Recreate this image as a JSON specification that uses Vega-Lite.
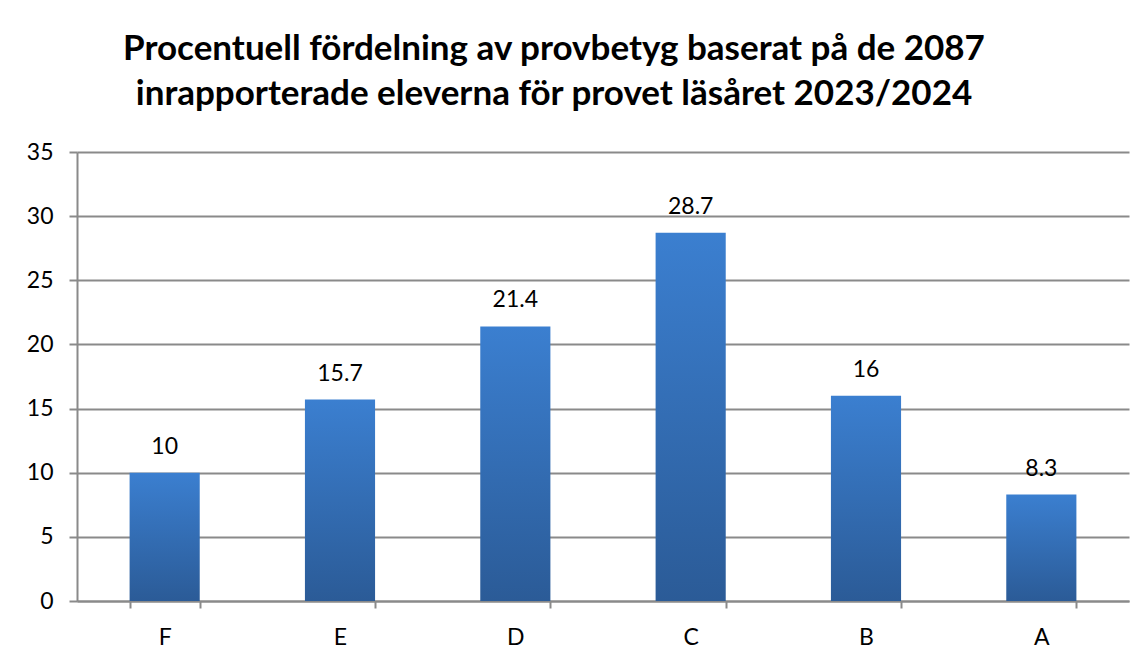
{
  "$schema": "https://vega.github.io/schema/vega-lite/v6.json",
  "autosize": {"type": "none"},
  "width": 1052,
  "height": 449,
  "padding": {"left": 77, "top": 152, "right": 17, "bottom": 63},
  "background": "white",
  "title": {
    "text": ["Procentuell fördelning av provbetyg baserat på de 2087", "inrapporterade eleverna för provet läsåret 2023/2024"],
    "font": "Lato",
    "fontSize": 35,
    "fontWeight": "bold",
    "color": "#000000",
    "lineHeight": 45,
    "anchor": "middle",
    "frame": "group",
    "dx": -49,
    "offset": 29
  },
  "data": {
    "values": [
      {"grade": "F", "percent": 10},
      {"grade": "E", "percent": 15.7},
      {"grade": "D", "percent": 21.4},
      {"grade": "C", "percent": 28.7},
      {"grade": "B", "percent": 16},
      {"grade": "A", "percent": 8.3}
    ]
  },
  "encoding": {
    "x": {
      "field": "grade",
      "type": "nominal",
      "sort": null,
      "scale": {"paddingInner": 0.6, "paddingOuter": 0.3},
      "axis": {
        "title": null,
        "labelAngle": 0,
        "labelFont": "Lato",
        "labelFontSize": 23,
        "labelColor": "#000000",
        "labelPadding": 18,
        "domainColor": "#8a8a8a",
        "domainWidth": 2,
        "tickColor": "#8a8a8a",
        "tickWidth": 2,
        "tickSize": 7,
        "tickBand": "extent",
        "grid": false
      }
    },
    "y": {
      "field": "percent",
      "type": "quantitative",
      "scale": {"domain": [0, 35], "nice": false},
      "axis": {
        "title": null,
        "values": [0, 5, 10, 15, 20, 25, 30, 35],
        "labelFont": "Lato",
        "labelFontSize": 23,
        "labelColor": "#000000",
        "labelPadding": 16,
        "domainColor": "#8a8a8a",
        "domainWidth": 2,
        "tickColor": "#8a8a8a",
        "tickWidth": 2,
        "tickSize": 8,
        "gridColor": "#8a8a8a",
        "gridWidth": 2
      }
    }
  },
  "layer": [
    {
      "mark": {
        "type": "bar",
        "color": {
          "gradient": "linear",
          "x1": 0, "y1": 0, "x2": 0, "y2": 1,
          "stops": [
            {"offset": 0, "color": "#3b7fd0"},
            {"offset": 1, "color": "#2b5b97"}
          ]
        }
      }
    },
    {
      "mark": {
        "type": "text",
        "font": "Lato",
        "fontSize": 23,
        "color": "#000000",
        "baseline": "alphabetic",
        "dy": -19
      },
      "encoding": {
        "text": {"field": "percent", "type": "quantitative"}
      }
    }
  ],
  "config": {"view": {"stroke": null}}
}
